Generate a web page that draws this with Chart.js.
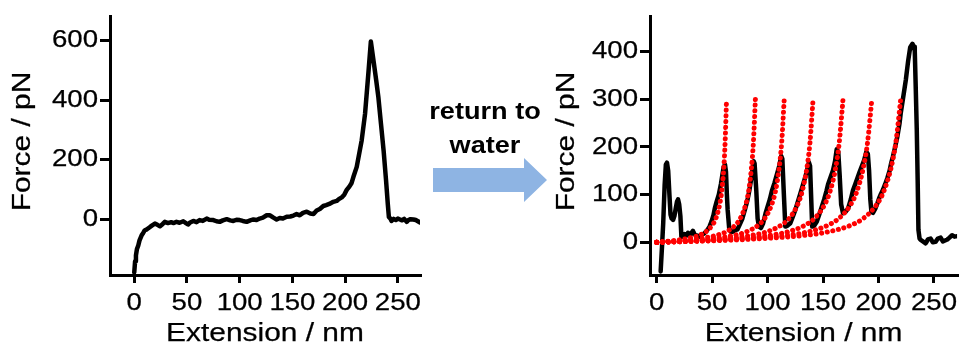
<!DOCTYPE html>
<html>
<head>
<meta charset="utf-8">
<script src="https://cdn.jsdelivr.net/npm/chart.js@4/dist/chart.umd.min.js"></script>
<style>
  html, body { margin: 0; padding: 0; background: #fff; }
  #wrap { position: relative; width: 960px; height: 347px; overflow: hidden; background: #fff; }
  #cLeft { position: absolute; left: 0; top: 0; }
  #cRight { position: absolute; left: 540px; top: 0; }
  #note { position: absolute; left: 405px; top: 94px; width: 160px; text-align: center;
          font-family: 'Liberation Sans', Arial, sans-serif; font-weight: bold; font-size: 24px;
          line-height: 34px; color: #000; transform: scaleX(1.13); transform-origin: 50% 50%; }
  #arrow { position: absolute; left: 0; top: 0; }
</style>
</head>
<body>
<div id="wrap">
  <canvas id="cLeft" width="440" height="347"></canvas>
  <canvas id="cRight" width="420" height="347"></canvas>
  <svg id="arrow" width="960" height="347"><polygon points="433,168 524,168 524,158 547,180 524,202 524,192 433,192" fill="rgb(142,180,227)"/></svg>
  <div id="note">return to<br>water</div>
</div>
<script>
// ---------- DATA ----------
const leftExt = [0,0.8,1.6,2.5,3.8,5,7,8.5,10,12,15,17,19.6,22,24.4,27,29,32,35,37,40,43,46.5,49,51,53,56,59,62,65,68.7,71,75,78,81,84,87.7,91,94,97,100,103,106.6,110,113,116,119,122,125.6,128.7,132,135,138,141,144.6,148,151,154,157,160,163.6,167,170,173,176,179.3,182,185,188.8,192,194,196.8,199,201.5,204,206,207.8,211,215.7,218.9,222,224.4,227,229.5,231.5,234,236.5,238.8,240.5,241.5,243,244,246,248,250,252,254,256,258.4,260,262,264.7,267,269,271];
const leftForce = [-177,-140,-120,-100,-87,-70,-53,-45,-36,-33,-25,-20,-14,-18,-23,-15,-8,-12,-9,-12,-8,-11,-6,-12,-17,-10,-5,-9,-2,-5,3,-1,-2,-6,-8,-3,1,-3,-5,-1,-2,-5,-8,-3,0,-2,3,6,14,14,6,0,5,3,9,10,13,18,14,22,26,20,18,30,35,45,48,52,59,62,68,74,82,99,110,121,142,176,265,354,488,596,530,465,410,320,230,131,50,8,2,-5,2,-2,3,0,-3,2,-8,-2,1,0,-2,-6,-10];

const rightExt = [3.6,4.8,5.9,7.2,8.3,9.3,10.4,11.5,12.5,13.5,14.8,16,17.2,18.3,19.3,20.3,21.4,22.3,23.8,25.3,26.7,28.2,29.5,30.4,31.5,32.7,34,35,37,38.7,41,43,45.5,47.6,49.5,51.2,52.5,54,56,58,59.5,60.4,61.6,62.5,63.3,64,65.4,67,68.4,70.5,72.8,75,77.3,79.5,81.8,83.5,85,86.3,87.5,88.3,89.8,91,92.2,94,96,98.2,100,102,104,106.3,108.6,110.5,112.3,113.3,114.5,116,118,120.5,122.5,125,127.3,129.5,131.8,134,136,137.2,138.3,139.2,140.2,142,144.3,146.5,148.8,151,153,154.7,157,159,160.8,162.3,163.7,165,166.3,168,170.3,172.6,175,177,179,181,183,185,187,189,190.4,191.5,192.6,193.6,195,197,199,200.5,202.3,204,206,208,210,211.3,213,215,217,219,220,222,224.6,226.7,228.6,230.6,232,232.7,233.6,234.5,235.3,236,237,238,240,242.5,244.5,247,249,251.4,253.5,256,258,260,262,264,266.3,268.5,271];
const rightForce = [-61,-10,40,120,163,167,150,100,58,50,47,55,71,85,90,80,55,12,12,17,14,20,16,15,20,24,18,15,14,12,16,19,25,33,44,57,72,85,100,123,145,158,163,148,100,68,29,22,22,25,27,38,50,68,88,108,130,151,170,165,109,50,33,30,40,61,75,90,109,125,144,160,181,175,110,33,35,40,52,68,85,102,120,137,155,168,160,100,33,35,43,58,74,90,107,123,138,151,170,195,190,140,80,61,64,71,90,109,122,135,148,160,172,190,185,150,90,64,62,70,82,92,102,110,122,135,150,165,180,200,222,250,270,300,340,380,409,416,410,400,320,235,130,26,8,5,2,-2,6,8,0,1,8,10,2,4,6,10,15,12,13];

// worm-like-chain fits (red dotted)
const fitForce = [0,2.9,7,14.4,21.7,36.7,51.4,78,106,155,209,300];
const fitExt1 = [0,12.6,25.2,37.8,44.1,50.4,53.6,56.7,58.6,60.5,61.7,63];
const fitExt2 = [0,17.8,35.6,53.4,62.3,71.2,75.7,80.1,82.8,85.4,87.2,89];
const fitExt3 = [0,23,46,69,80.5,92,97.8,103.5,107,110.4,112.7,115];
const fitExt4 = [0,28.2,56.4,84.6,98.7,112.8,119.9,126.9,131.1,135.4,138.2,141];
const fitExt5 = [0,33.6,67.2,100.8,117.6,134.4,142.8,151.2,156.2,161.3,164.6,168];
const fitExt6 = [0,38.8,77.6,116.4,135.8,155.2,164.9,174.6,180.4,186.2,190.1,194];
const fitExt7 = [0,44,88,132,154,176,187,198,204.6,211.2,215.6,220];

const leftXTicks = [0,50,100,150,200,250];
const leftYTicks = [0,200,400,600];
const rightXTicks = [0,50,100,150,200,250];
const rightYTicks = [0,100,200,300,400];

// ---------- RENDER ----------
// wide text rendering (reference type is stretched along the writing direction)
const _fillText = CanvasRenderingContext2D.prototype.fillText;
CanvasRenderingContext2D.prototype.fillText = function(t, x, y, w) {
  this.save();
  this.translate(x, y);
  this.scale(1.15, 1);
  if (w === undefined) _fillText.call(this, t, 0, 0); else _fillText.call(this, t, 0, 0, w);
  this.strokeStyle = this.fillStyle;
  this.lineWidth = 0.25;
  this.setLineDash([]);
  if (w === undefined) this.strokeText(t, 0, 0); else this.strokeText(t, 0, 0, w);
  this.restore();
};

const FONT = "'Liberation Sans', Arial, sans-serif";
const zip = (xs, ys) => xs.map((x, i) => ({x: x, y: ys[i]}));

function axis(opts) {
  return {
    type: 'linear',
    min: opts.min, max: opts.max,
    afterBuildTicks: s => { s.ticks = opts.ticks.map(v => ({value: v})); },
    afterFit: opts.fit,
    border: {display: true, color: '#000', width: 3},
    grid: {display: true, drawOnChartArea: false, drawTicks: true, tickLength: opts.tickLength,
           lineWidth: 3, tickWidth: 3, color: '#000', tickColor: '#000'},
    ticks: {color: '#000', font: {family: FONT, size: 24}, padding: opts.pad, maxRotation: 0, autoSkip: false},
    title: {display: true, text: opts.title, color: '#000', font: {family: FONT, size: 26, lineHeight: 1},
            padding: opts.titlePad}
  };
}

function blackSet(xs, ys) {
  return {data: zip(xs, ys), borderColor: '#000', borderWidth: 4.5, pointRadius: 0, tension: 0,
          fill: false, borderJoinStyle: 'round', borderCapStyle: 'round', order: 2};
}
function fitSet(xs) {
  return {data: zip(xs, fitForce), borderColor: 'rgb(255,0,0)', borderWidth: 5, pointRadius: 0,
          cubicInterpolationMode: 'monotone', fill: false, borderDash: [0.1, 5.6],
          borderCapStyle: 'round', order: 1};
}

const common = {
  animation: false, responsive: false, devicePixelRatio: 1,
  plugins: {legend: {display: false}, tooltip: {enabled: false}},
  elements: {point: {radius: 0}}
};

new Chart(document.getElementById('cLeft'), {
  type: 'line',
  data: {datasets: [blackSet(leftExt, leftForce)]},
  options: Object.assign({}, common, {
    layout: {padding: {top: 16, right: 20, left: 0, bottom: 0}},
    scales: {
      x: axis({min: -23, max: 271, ticks: leftXTicks, fit: s => { s.height = 72; }, tickLength: 8, pad: 6,
               title: 'Extension / nm', titlePad: {top: 0, bottom: 0}}),
      y: axis({min: -186, max: 680, ticks: leftYTicks, fit: s => { s.width = 110; }, tickLength: 10, pad: 2,
               title: ' Force / pN', titlePad: {top: 9.5, bottom: 0}})
    }
  })
});

new Chart(document.getElementById('cRight'), {
  type: 'line',
  data: {datasets: [
    fitSet(fitExt1), fitSet(fitExt2), fitSet(fitExt3), fitSet(fitExt4),
    fitSet(fitExt5), fitSet(fitExt6), fitSet(fitExt7),
    blackSet(rightExt, rightForce)
  ]},
  options: Object.assign({}, common, {
    layout: {padding: {top: 16, right: 0, left: 0, bottom: 0}},
    scales: {
      x: axis({min: -6, max: 270.8, ticks: rightXTicks, fit: s => { s.height = 72; }, tickLength: 8, pad: 6,
               title: 'Extension / nm', titlePad: {top: 0, bottom: 0}}),
      y: axis({min: -68.4, max: 473.5, ticks: rightYTicks, fit: s => { s.width = 110; }, tickLength: 10, pad: 2,
               title: ' Force / pN', titlePad: {top: 13.5, bottom: 0}})
    }
  })
});
</script>
</body>
</html>
